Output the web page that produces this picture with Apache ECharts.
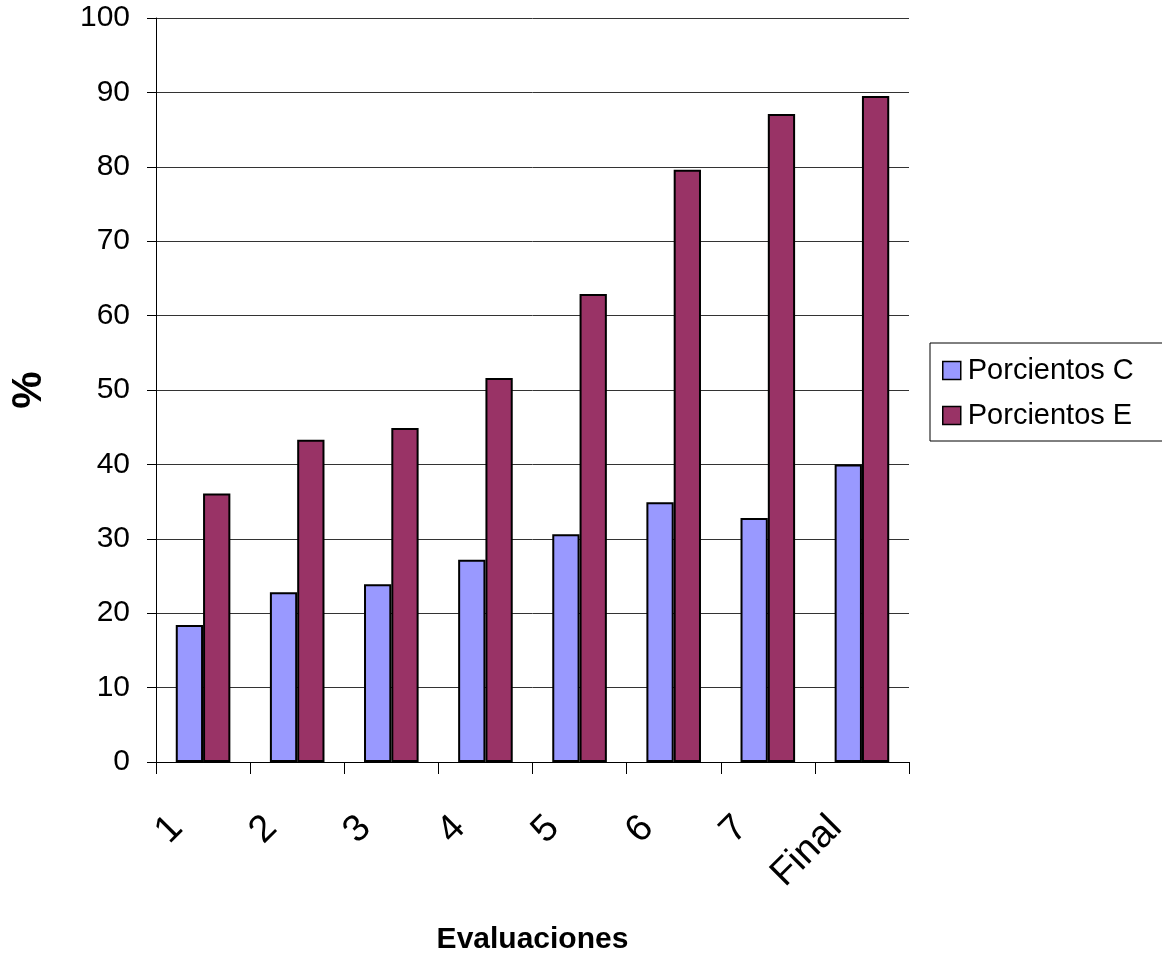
<!DOCTYPE html>
<html>
<head>
<meta charset="utf-8">
<title>Evaluaciones</title>
<script src="https://cdn.jsdelivr.net/npm/echarts@6/dist/echarts.min.js"></script>
<style>
  html, body { margin: 0; padding: 0; background: #fff; }
  #chart { width: 1162px; height: 962px; }
</style>
</head>
<body>
<div id="chart"></div>
<script>
// Evaluation labels along the x axis
const categories = ['1', '2', '3', '4', '5', '6', '7', 'Final'];
// Percentages per evaluation
const porcientosC = [18.4, 22.8, 23.9, 27.2, 30.6, 34.9, 32.8, 40.0];
const porcientosE = [36.1, 43.3, 44.9, 51.6, 62.9, 79.6, 87.1, 89.5];
const seriesNames = ['Porcientos C', 'Porcientos E'];
const seriesColors = ['#9999FF', '#993366'];

const FONT = '"Liberation Sans", Arial, sans-serif';

const chart = echarts.init(document.getElementById('chart'), null, { renderer: 'canvas' });

chart.setOption({
  animation: false,
  backgroundColor: '#ffffff',
  textStyle: { fontFamily: FONT, color: '#000' },
  grid: { left: 151, right: 253, top: 18, bottom: 200, containLabel: false },
  legend: {
    orient: 'vertical',
    left: 930,
    top: 343,
    padding: [13, 40, 11, 12],
    itemGap: 16,
    itemWidth: 18,
    itemHeight: 18,
    borderColor: '#000',
    borderWidth: 1,
    icon: 'rect',
    itemStyle: { borderColor: '#000', borderWidth: 1.5 },
    textStyle: { fontFamily: FONT, fontSize: 29, color: '#000', padding: [0, 0, 0, 2] },
    data: seriesNames
  },
  xAxis: {
    type: 'category',
    data: categories,
    name: 'Evaluaciones',
    nameLocation: 'middle',
    nameGap: 163,
    nameTextStyle: { fontFamily: FONT, fontSize: 30, fontWeight: 'bold', color: '#000' },
    axisLine: { show: true, lineStyle: { color: '#000', width: 1 } },
    axisTick: { show: true, interval: 0, length: 12, alignWithLabel: false, lineStyle: { color: '#000' } },
    axisLabel: {
      interval: 0,
      rotate: 45,
      margin: 34,
      padding: [0, 37, 0, 0],
      fontFamily: FONT,
      fontSize: 38,
      color: '#000'
    },
    splitLine: { show: false }
  },
  yAxis: {
    type: 'value',
    min: 0,
    max: 100,
    interval: 10,
    name: '%',
    nameLocation: 'middle',
    nameRotate: 90,
    nameGap: 106,
    nameTextStyle: { fontFamily: FONT, fontSize: 42, fontWeight: 'bold', color: '#000' },
    axisLine: { show: true, lineStyle: { color: '#000', width: 1 } },
    axisTick: { show: true, length: 9, lineStyle: { color: '#000' } },
    axisLabel: { margin: 26, fontFamily: FONT, fontSize: 30, color: '#000' },
    splitLine: { show: true, lineStyle: { color: '#333', width: 1 } }
  },
  series: [
    {
      name: seriesNames[0],
      type: 'bar',
      data: porcientosC,
      barWidth: '29%',
      barGap: '0%',
      itemStyle: { color: seriesColors[0], borderColor: '#000', borderWidth: 2 }
    },
    {
      name: seriesNames[1],
      type: 'bar',
      data: porcientosE,
      barWidth: '29%',
      barGap: '0%',
      itemStyle: { color: seriesColors[1], borderColor: '#000', borderWidth: 2 }
    }
  ]
});
</script>
</body>
</html>
